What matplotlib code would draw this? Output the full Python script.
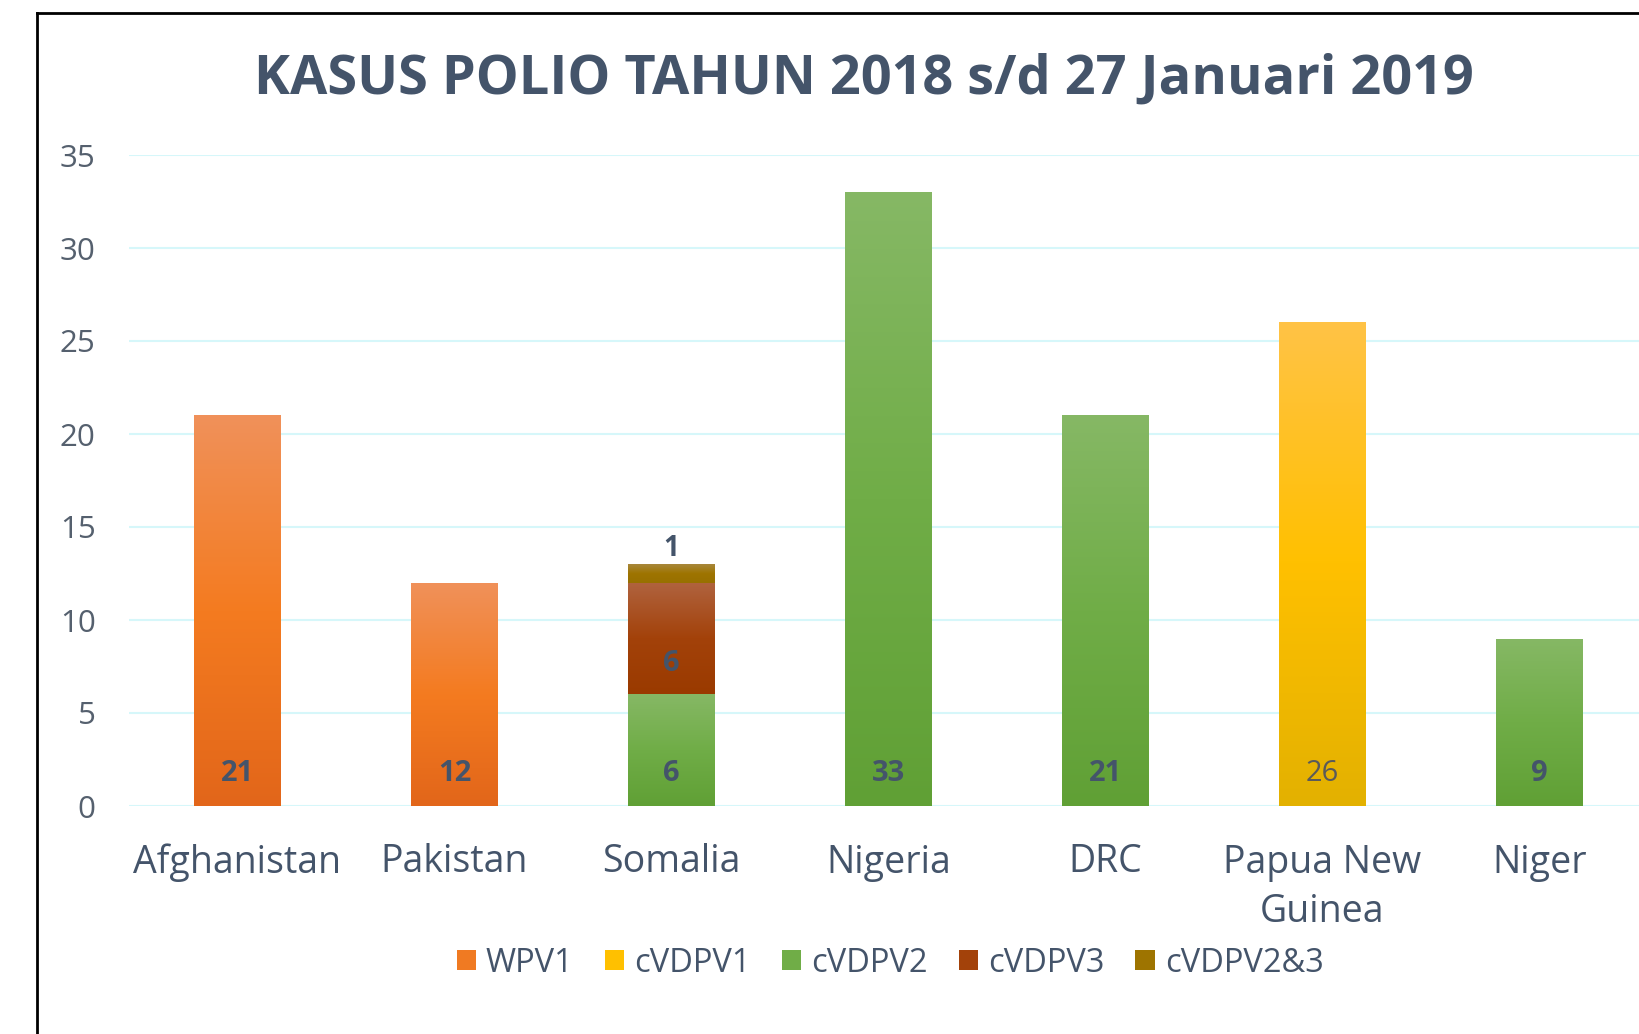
import numpy as np
import matplotlib
matplotlib.use("Agg")
import matplotlib.pyplot as plt
from matplotlib.colors import LinearSegmentedColormap
from matplotlib.lines import Line2D

plt.rcParams['font.family'] = ['Open Sans', 'DejaVu Sans']

# ---- data ----
categories = ["Afghanistan", "Pakistan", "Somalia", "Nigeria", "DRC", "Papua New\nGuinea", "Niger"]
series_names = ["WPV1", "cVDPV1", "cVDPV2", "cVDPV3", "cVDPV2&3"]
wpv1 = [21, 12, 0, 0, 0, 0, 0]
cvdpv1 = [0, 0, 0, 0, 0, 26, 0]
cvdpv2 = [0, 0, 6, 33, 21, 0, 9]
cvdpv3 = [0, 0, 6, 0, 0, 0, 0]
cvdpv23 = [0, 0, 1, 0, 0, 0, 0]
yticks = [0, 5, 10, 15, 20, 25, 30, 35]
title = "KASUS POLIO TAHUN 2018 s/d 27 Januari 2019"

# ---- styles ----
base_colors = ["#F07A22", "#FFC000", "#70AD47", "#A3420A", "#9E7400"]
grad_stops = [
    ("#F0915A", "#F47B20", "#E2661A"),
    ("#FFC346", "#FFC000", "#E3B100"),
    ("#86B865", "#70AD47", "#60A035"),
    ("#B0633F", "#A3420A", "#9A3A00"),
    ("#A8873C", "#9E7400", "#987000"),
]
TXT = "#44546A"
TICK = "#55606E"

W, H = 1639, 1034
fig = plt.figure(figsize=(W / 100, H / 100), dpi=100)
fig.patch.set_facecolor("white")

ax = fig.add_axes([129 / W, 1 - 806 / H, (1648 - 129) / W, 651 / H])
ax.set_facecolor("white")

x = np.arange(len(categories))
series = [wpv1, cvdpv1, cvdpv2, cvdpv3, cvdpv23]
bottom = np.zeros(len(categories))
containers = []
for name, vals, col, stops in zip(series_names, series, base_colors, grad_stops):
    vals = np.array(vals, dtype=float)
    bc = ax.bar(x, vals, width=0.4, bottom=bottom, color=col, label=name,
                edgecolor="none", zorder=2)
    cmap = LinearSegmentedColormap.from_list(name, list(stops[::-1]))
    for rect, v in zip(bc.patches, vals):
        if v <= 0:
            continue
        x0, y0, w, h = rect.get_x(), rect.get_y(), rect.get_width(), rect.get_height()
        grad = np.linspace(0, 1, 256).reshape(-1, 1)
        im = ax.imshow(grad, extent=[x0, x0 + w, y0, y0 + h], origin="lower",
                       cmap=cmap, aspect="auto", zorder=3, interpolation="bicubic")
        im.set_clip_path(rect)
    containers.append((name, bc, vals, bottom.copy()))
    bottom = bottom + vals

# data labels
for name, bc, vals, bot in containers:
    for xi, v, b in zip(x, vals, bot):
        if v <= 0:
            continue
        if name == "cVDPV2&3":
            ax.annotate(f"{int(v)}", (xi, b + v), xytext=(0, 11), textcoords="offset points",
                        ha="center", va="center", fontsize=20, fontweight="bold",
                        color=TXT, zorder=5, annotation_clip=False)
        else:
            weight = "normal" if name == "cVDPV1" else "bold"
            color = "#5A5A5A" if name == "cVDPV1" else TXT
            dy = 22 if name == "cVDPV3" else 23.5
            ax.annotate(f"{int(v)}", (xi, b), xytext=(0, dy), textcoords="offset points",
                        ha="center", va="center", fontsize=21, fontweight=weight,
                        color=color, zorder=5)

ax.set_xlim(-0.5, len(categories) - 0.5)
ax.set_ylim(0, 35)
ax.set_yticks(yticks)
ax.set_yticklabels([str(t) for t in yticks])
ax.set_xticks(x)
ax.set_xticklabels(categories, linespacing=1.38)
ax.grid(axis="y", color="#D6F7FA", linewidth=1.5, zorder=0)
ax.set_axisbelow(True)
for s in ax.spines.values():
    s.set_visible(False)
ax.tick_params(axis="y", length=0, pad=24, labelsize=22.5, labelcolor=TICK)
ax.tick_params(axis="x", length=0, pad=27, labelsize=27, labelcolor=TXT)

fig.text(864 / W, 1 - 80 / H, title, ha="center", va="center", fontsize=39,
         fontweight="bold", color=TXT)

handles = [c[1] for c in containers]
leg = fig.legend(handles, series_names, loc="center", bbox_to_anchor=(890 / W, 1 - 963 / H),
                 ncol=5, frameon=False, fontsize=23.5, handlelength=0.6, handleheight=0.6,
                 handletextpad=0.3, columnspacing=0.95, labelcolor=TXT)

# outer frame (left and top edges visible, rest cropped)
fig.add_artist(Line2D([37 / W, 37 / W], [-0.01, 1 - 13 / H], transform=fig.transFigure,
                      color="black", linewidth=2))
fig.add_artist(Line2D([37 / W, 1.01], [1 - 13 / H, 1 - 13 / H], transform=fig.transFigure,
                      color="black", linewidth=2))

fig.savefig("out.png", dpi=100, facecolor="white")
